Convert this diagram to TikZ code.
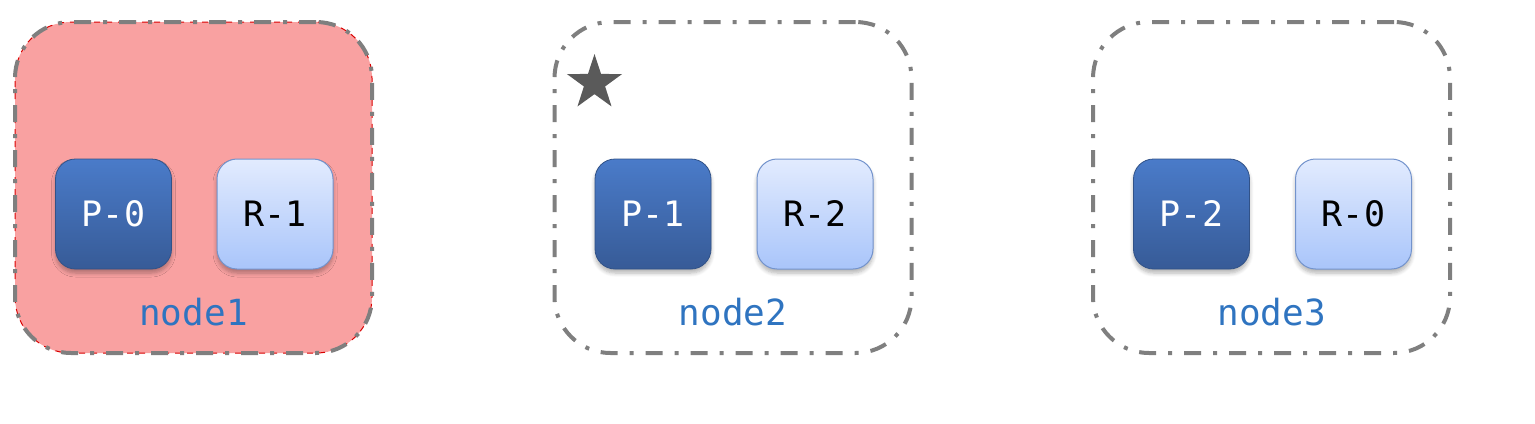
\documentclass[tikz,border=0pt]{standalone}
\usepackage{fontspec}
\newfontfamily\monofam{DejaVu Sans Mono}
\usetikzlibrary{shapes.geometric,shadows.blur}
\definecolor{boxgray}{HTML}{7F7F7F}
\definecolor{nodefill}{HTML}{F9A1A1}
\definecolor{ptop}{HTML}{4A7BC9}
\definecolor{pbot}{HTML}{375B97}
\definecolor{rtop}{HTML}{E2EBFE}
\definecolor{rbot}{HTML}{A9C5FA}
\definecolor{rline}{HTML}{7393CC}
\definecolor{lblue}{HTML}{2F74C0}
\definecolor{stargray}{HTML}{5A5A5A}
\tikzset{
  container/.style={draw=boxgray, line width=2pt, rounded corners=28pt,
    minimum width=178.5pt, minimum height=165.5pt, inner sep=0pt,
    dash pattern=on 8.5pt off 6pt on 2pt off 6pt},
  innerbox/.style={rounded corners=10pt, minimum width=58pt, minimum height=55pt,
    inner sep=0pt, font=\monofam\fontsize{17.5}{20}\selectfont,
    blur shadow={shadow xshift=0pt, shadow yshift=-2pt, shadow blur radius=2pt,
      shadow blur steps=6, shadow opacity=30}},
  pbox/.style={innerbox, top color=ptop, bottom color=pbot, draw=pbot!90!black, line width=0.4pt,
    text=white},
  rbox/.style={innerbox, top color=rtop, bottom color=rbot, draw=rline, line width=0.5pt,
    text=black},
  lbl/.style={text=lblue, font=\monofam\fontsize{18}{20}\selectfont, inner sep=0pt},
}
\begin{document}
\begin{tikzpicture}[x=0.5pt,y=-0.5pt]
\useasboundingbox (0,0) rectangle (1535,423);
% node1 background
\node[rounded corners=28pt, minimum width=178.5pt, minimum height=165.5pt, inner sep=0pt,
  fill=nodefill, draw=red!85!black, line width=0.5pt, dashed] (bg1) at (193.5,187.5) {};
\node[container] (c1) at (193.5,187.5) {};
\node[container] (c2) at (733,187.5) {};
\node[container] (c3) at (1271.5,187.5) {};
% star
\node[star, star points=5, star point ratio=2.6, fill=stargray, minimum size=29pt, inner sep=0pt] (st) at (594.5,83) {};
% inner boxes
\node[pbox] (p0) at (113.5,214) {P-0};
\node[rbox] (r1) at (275,214) {R-1};
\node[pbox] (p1) at (653,214) {P-1};
\node[rbox] (r2) at (815,214) {R-2};
\node[pbox] (p2) at (1191.5,214) {P-2};
\node[rbox] (r0) at (1353.5,214) {R-0};
% labels
\node[lbl] (l1) at (193.5,312) {node1};
\node[lbl] (l2) at (733,312) {node2};
\node[lbl] (l3) at (1271.5,312) {node3};
\end{tikzpicture}
\end{document}
